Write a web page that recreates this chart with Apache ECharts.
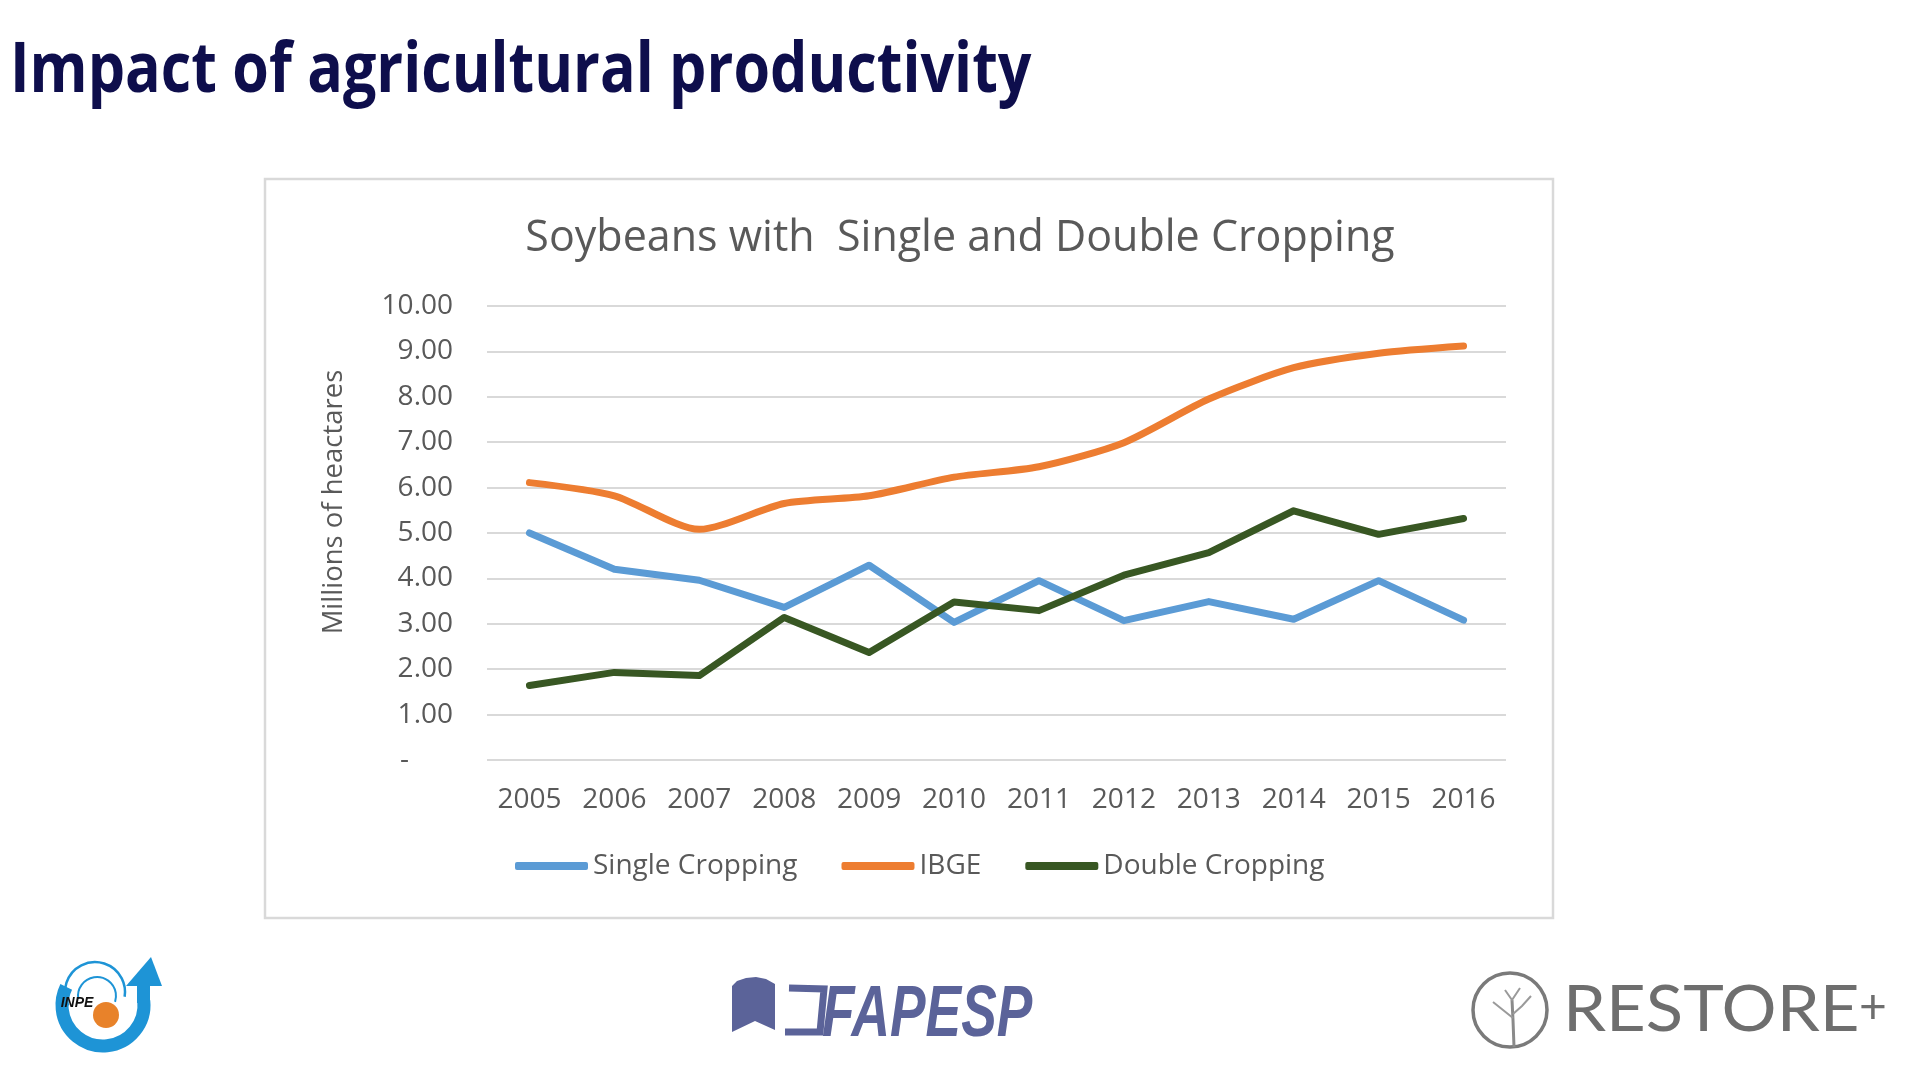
<!DOCTYPE html>
<html><head><meta charset="utf-8">
<script src="https://cdn.jsdelivr.net/npm/echarts@6/dist/echarts.min.js"></script>
<style>html,body{margin:0;padding:0;background:#fff}#c{width:1920px;height:1080px}</style>
</head><body><div id="c"></div>
<script>
const years = ['2005','2006','2007','2008','2009','2010','2011','2012','2013','2014','2015','2016'];
const singleCropping = [5.00,4.20,3.96,3.36,4.29,3.03,3.95,3.07,3.49,3.10,3.95,3.08];
const ibge = [6.11,5.82,5.08,5.65,5.82,6.23,6.46,6.99,7.95,8.64,8.96,9.12];
const doubleCropping = [1.64,1.93,1.86,3.14,2.37,3.48,3.29,4.07,4.57,5.49,4.97,5.32];
const seriesNames = ['Single Cropping','IBGE','Double Cropping'];
const seriesColors = ['#5b9bd5','#ed7d31','#385723'];
const yMin = 0, yMax = 10, yStep = 1;

const FONT = '"Open Sans", "Noto Sans", sans-serif';
const GRAY = '#595959';

const chart = echarts.init(document.getElementById('c'), null, {renderer:'canvas'});
const lineSeries = [singleCropping, ibge, doubleCropping].map((d,i)=>({
  name: seriesNames[i], type:'line', data:d, symbol:'none', smooth: i===1 ? 0.25 : false,
  lineStyle:{color:seriesColors[i], width:7, cap:'round', join:'round'},
  itemStyle:{color:seriesColors[i]}, z: 3+i
}));

chart.setOption({
  backgroundColor:'#ffffff',
  animation:false,
  title:{
    text:'Soybeans with  Single and Double Cropping',
    left:'center', top:212,
    textStyle:{fontFamily:FONT, fontSize:43, fontWeight:'normal', color:GRAY}
  },
  grid:{left:487, right:414, top:306, bottom:320, containLabel:false},
  xAxis:{
    type:'category', data:years, boundaryGap:true,
    axisLine:{show:false}, axisTick:{show:false},
    axisLabel:{fontFamily:FONT, fontSize:28, color:GRAY, margin:26}
  },
  yAxis:{
    type:'value', min:yMin, max:yMax, interval:yStep,
    name:'Millions of heactares', nameLocation:'middle', nameGap:139, nameRotate:90,
    nameTextStyle:{fontFamily:FONT, fontSize:27.5, color:GRAY, padding:[0,0,0,62]},
    axisLine:{show:false}, axisTick:{show:false},
    splitLine:{lineStyle:{color:'#d9d9d9', width:2}},
    axisLabel:{fontFamily:FONT, fontSize:28, color:GRAY, margin:34,
      formatter:v=> v===0 ? '{z|-}' : v.toFixed(2),
      rich:{z:{fontFamily:FONT, fontSize:28, color:GRAY, padding:[0,44,0,0]}}}
  },
  legend:{
    data:seriesNames, left:510, top:847, itemGap:44, itemWidth:73, itemHeight:8,
    icon:'roundRect',
    textStyle:{fontFamily:FONT, fontSize:28, color:GRAY}
  },
  series: lineSeries,
  graphic:[
    {type:'rect', shape:{x:265, y:179, width:1288, height:739}, style:{fill:'none', stroke:'#d9d9d9', lineWidth:2.5}, z:0},
    {type:'text', x:10, y:72, scaleX:0.845, style:{text:'Impact of agricultural productivity', x:0, y:0,
      fontFamily:FONT, fontSize:70, fontWeight:'bold', fill:'#0e0e4c', align:'left', verticalAlign:'middle', textAlign:'left', textVerticalAlign:'middle'}},
    // INPE logo
    {type:'arc', shape:{cx:103, cy:1005, r:41, startAngle:-0.1, endAngle:3.6, clockwise:true}, style:{stroke:'#1e94d6', lineWidth:13, fill:'none'}},
    {type:'polygon', shape:{points:[[137,1003],[150,1003],[150,983],[137,983]]}, style:{fill:'#1e94d6'}},
    {type:'polygon', shape:{points:[[126,986],[162,986],[151,957]]}, style:{fill:'#1e94d6'}},
    {type:'arc', shape:{cx:95, cy:992, r:30, startAngle:Math.PI*0.85, endAngle:Math.PI*2.05, clockwise:true}, style:{stroke:'#1e94d6', lineWidth:2.5, fill:'none'}},
    {type:'arc', shape:{cx:97, cy:996, r:19, startAngle:Math.PI*0.95, endAngle:Math.PI*2.1, clockwise:true}, style:{stroke:'#1e94d6', lineWidth:2, fill:'none'}},
    {type:'circle', shape:{cx:106, cy:1015, r:13}, style:{fill:'#e8822a'}},
    {type:'text', x:77, y:1003, style:{text:'INPE', x:0, y:0, fontFamily:'"Liberation Sans", sans-serif', fontSize:14, fontWeight:'bold', fontStyle:'italic', fill:'#111', align:'center', verticalAlign:'middle', textAlign:'center', textVerticalAlign:'middle'}},
    // FAPESP logo
    {type:'polygon', shape:{points:[[732,986],[737,981],[746,978],[756,977],[766,979],[775,984],[775,1030],[755,1021],[732,1032]]}, style:{fill:'#5b6399'}},
    {type:'polyline', shape:{points:[[789,988],[824,989],[820,1032],[785,1032]]}, style:{stroke:'#5b6399', lineWidth:7, fill:'none'}},
    {type:'text', x:822, y:1052, scaleX:0.74, style:{text:'FAPESP', x:0, y:0, fontFamily:'"Liberation Sans", sans-serif', fontSize:72, fontWeight:'bold', fontStyle:'italic', fill:'#5b6399', align:'left', verticalAlign:'bottom', textAlign:'left', textVerticalAlign:'bottom'}},
    // RESTORE+ logo
    {type:'circle', shape:{cx:1510, cy:1010, r:37}, style:{fill:'none', stroke:'#7a7a7a', lineWidth:3.5}},
    {type:'polyline', shape:{points:[[1514,1047],[1513,1020],[1512,1000]]}, style:{stroke:'#8a8a8a', lineWidth:3, fill:'none'}},
    {type:'polyline', shape:{points:[[1493,1002],[1503,1010],[1513,1018]]}, style:{stroke:'#9a9a9a', lineWidth:2, fill:'none'}},
    {type:'polyline', shape:{points:[[1531,996],[1522,1006],[1513,1014]]}, style:{stroke:'#9a9a9a', lineWidth:2, fill:'none'}},
    {type:'polyline', shape:{points:[[1505,990],[1512,1000],[1520,988]]}, style:{stroke:'#9a9a9a', lineWidth:2, fill:'none'}},
    {type:'text', x:1563, y:1010, scaleX:1.075, style:{text:'RESTORE', x:0, y:0, fontFamily:'Lato, "Open Sans", sans-serif', fontSize:64, fill:'#6e6e6e', align:'left', verticalAlign:'middle', textAlign:'left', textVerticalAlign:'middle'}},
    {type:'text', x:1873, y:1008, style:{text:'+', x:0, y:0, fontFamily:'Lato, "Open Sans", sans-serif', fontSize:48, fill:'#6e6e6e', align:'center', verticalAlign:'middle', textAlign:'center', textVerticalAlign:'middle'}}
  ]
});
</script></body></html>
